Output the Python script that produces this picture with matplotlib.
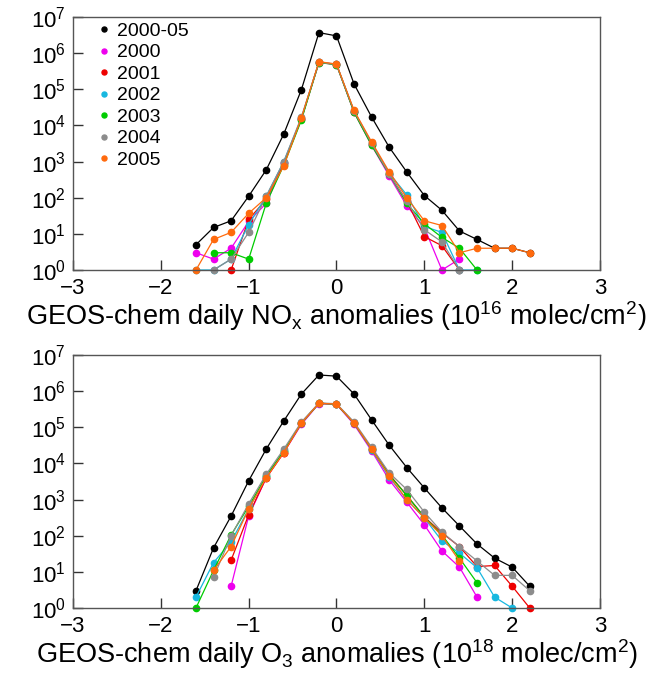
import matplotlib
matplotlib.use("Agg")
import matplotlib.pyplot as plt
import numpy as np

plt.rcParams['font.family'] = ['Liberation Sans', 'DejaVu Sans']
plt.rcParams['mathtext.fontset'] = 'custom'
plt.rcParams['mathtext.rm'] = 'Liberation Sans'
plt.rcParams['mathtext.it'] = 'Liberation Sans:italic'

nan = np.nan
x = [-1.6, -1.4, -1.2, -1.0, -0.8, -0.6, -0.4, -0.2, 0.0, 0.2,
     0.4, 0.6, 0.8, 1.0, 1.2, 1.4, 1.6, 1.8, 2.0, 2.2]

labels = ['2000-05', '2000', '2001', '2002', '2003', '2004', '2005']
colors = ['black', '#ee00ee', '#ee0000', '#17b8e0', '#00cc00', '#8c8c8c', '#ff6a0d']

# NOx anomalies (top)
nox_all = [5, 15, 23, 110, 590, 5800, 9.7e4, 3.7e6, 3.0e6, 1.4e5,
           1.7e4, 2500, 515, 115, 45, 12, 7, 4, 4, 3]
nox_2000 = [3, 2, 4, 22, 70, 900, 1.5e4, 5.5e5, 4.8e5, 2.3e4,
            2800, 400, 60, 15, 1, 2, nan, nan, nan, nan]
nox_2001 = [nan, nan, 1, 25, 90, 900, 1.5e4, 5.6e5, 4.9e5, 2.4e4,
            3000, 450, 80, 8.4, 4.7, 1, nan, nan, nan, nan]
nox_2002 = [1, 1, 2, 18, 110, 1000, 1.6e4, 5.6e5, 4.9e5, 2.5e4,
            3200, 480, 120, 16, 11, 1, 1, nan, nan, nan]
nox_2003 = [nan, 3, 3, 2, 70, 800, 1.4e4, 5.5e5, 4.8e5, 2.3e4,
            2800, 450, 70, 19, 8, 4, 1, nan, nan, nan]
nox_2004 = [nan, 1, 2, 11, 110, 1000, 1.7e4, 5.6e5, 4.9e5, 2.5e4,
            3200, 450, 80, 13, 6, 1, nan, nan, nan, nan]
nox_2005 = [1, 7, 11, 37, 100, 760, 1.6e4, 5.8e5, 5.0e5, 2.6e4,
            3500, 520, 100, 23, 17, 3, 4, 4, 4, 3]

# O3 anomalies (bottom)
o3_all = [3, 46, 350, 3300, 2.5e4, 1.5e5, 8.3e5, 2.8e6, 2.6e6, 8.3e5,
          1.6e5, 3.2e4, 7700, 2100, 590, 186, 59, 24, 13.5, 4]
o3_2000 = [nan, nan, 4, 350, 4000, 2e4, 1.2e5, 4.5e5, 4.3e5, 1.2e5,
           2.2e4, 3500, 850, 200, 38, 13.5, 2, nan, nan, nan]
o3_2001 = [nan, nan, 21, 380, 4000, 2e4, 1.3e5, 4.6e5, 4.4e5, 1.3e5,
           2.5e4, 5000, 1300, 330, 120, 50, 14, 15, 4, 1]
o3_2002 = [2, 18, 68, 550, 4500, 2.2e4, 1.3e5, 4.6e5, 4.4e5, 1.3e5,
           2.4e4, 4200, 1000, 310, 72, 33, 13, 2, 1, nan]
o3_2003 = [1, 11, 105, 650, 4500, 2.2e4, 1.3e5, 4.6e5, 4.4e5, 1.3e5,
           2.5e4, 4800, 1300, 330, 105, 24, 5, nan, nan, nan]
o3_2004 = [nan, 7, 100, 760, 5000, 2.5e4, 1.4e5, 4.7e5, 4.5e5, 1.4e5,
           2.8e4, 5500, 1900, 450, 126, 50, 20, 8, 8, 3]
o3_2005 = [nan, 11, 50, 550, 4000, 2e4, 1.3e5, 4.6e5, 4.4e5, 1.3e5,
           2.5e4, 4500, 1000, 310, 100, 20, nan, nan, nan, nan]

nox = [nox_all, nox_2000, nox_2001, nox_2002, nox_2003, nox_2004, nox_2005]
o3 = [o3_all, o3_2000, o3_2001, o3_2002, o3_2003, o3_2004, o3_2005]

fig = plt.figure(figsize=(6.48, 6.73), dpi=100)
ax1 = fig.add_axes([73/648, 1 - 270/673, 527/648, 253/673])
ax2 = fig.add_axes([73/648, 1 - 608/673, 527/648, 253/673])

xlabels = ['GEOS-chem daily NO$_\\mathrm{x}$ anomalies (10$^{16}$ molec/cm$^2$)',
           'GEOS-chem daily O$_3$ anomalies (10$^{18}$ molec/cm$^2$)']

for ax, series, xl in [(ax1, nox, xlabels[0]), (ax2, o3, xlabels[1])]:
    for s, c, lab in zip(series, colors, labels):
        y = np.array(s, dtype=float)
        ax.plot(x, y, '-o', color=c, lw=0.9, ms=4.5, mec=c, label=lab,
                clip_on=False)
    ax.set_yscale('log')
    ax.set_ylim(1, 1e7)
    ax.set_xlim(-3, 3)
    ax.set_yticks([10**k for k in range(8)])
    ax.minorticks_off()
    ax.set_xticks([-3, -2, -1, 0, 1, 2, 3])
    ax.set_xticklabels(['\u22123', '\u22122', '\u22121', '0', '1', '2', '3'])
    ax.tick_params(direction='in', length=7, width=1, color='#333333',
                   labelsize=16)
    ax.tick_params(axis='x', pad=6)
    ax.tick_params(axis='y', pad=5)
    for sp in ax.spines.values():
        sp.set_color('#555555')
        sp.set_linewidth(1)
    ax.set_xlabel(xl, fontsize=19.5, labelpad=0)

leg = ax1.legend(loc='upper left', frameon=False, fontsize=14,
                 handlelength=0.6, handletextpad=0.4, labelspacing=0.2,
                 borderaxespad=0.2, markerscale=0.8, bbox_to_anchor=(0.025, 1.025))
for h in leg.legend_handles:
    h.set_linestyle('')

fig.savefig('out.png', dpi=100)
